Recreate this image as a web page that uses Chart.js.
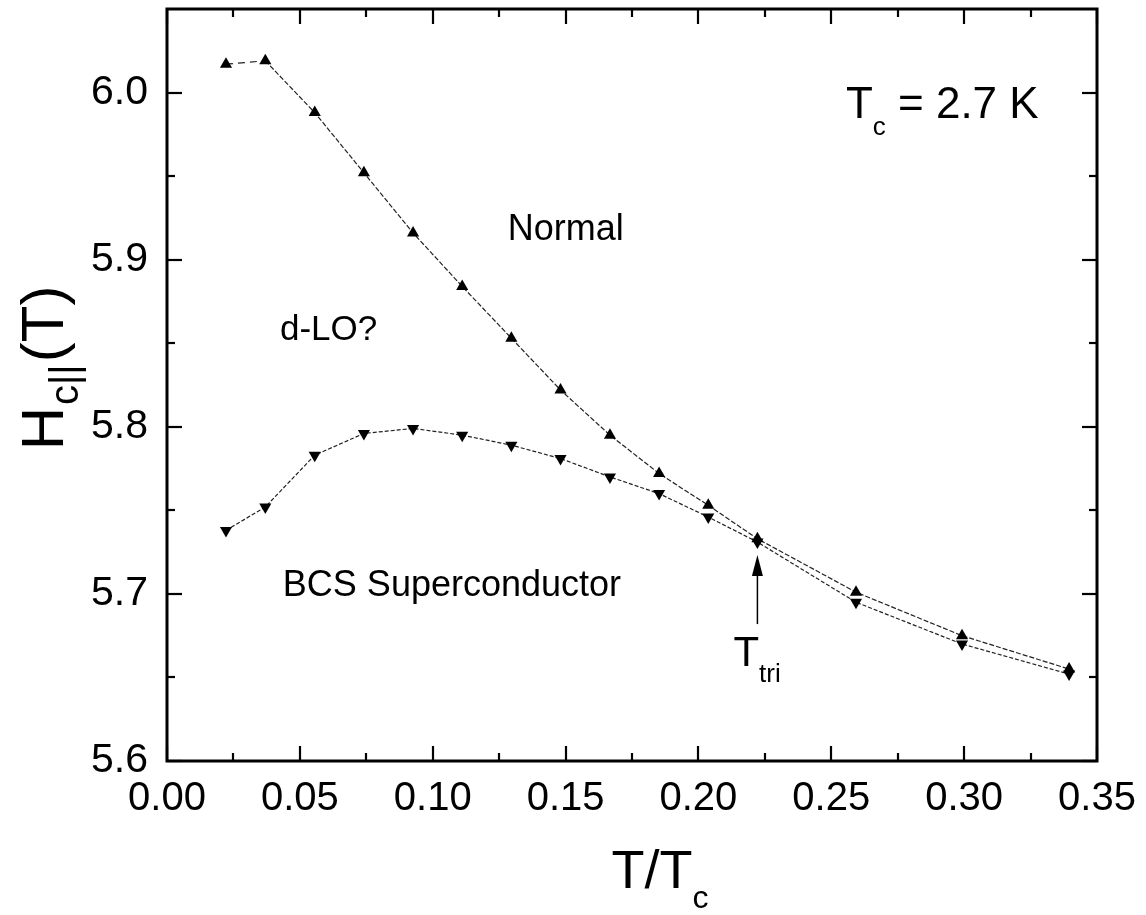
<!DOCTYPE html>
<html>
<head>
<meta charset="utf-8">
<title>Hc|| vs T/Tc</title>
<script src="https://cdn.jsdelivr.net/npm/chart.js@4.4.1/dist/chart.umd.min.js"></script>
<style>
  html, body { margin: 0; padding: 0; background: #fff; }
  canvas { display: block; }
</style>
</head>
<body>
<canvas id="phaseChart" width="1146" height="915"></canvas>
<script>
// T/Tc for each field sweep (Tc = 2.7 K)
const tOverTc = [0.0222, 0.0370, 0.0556, 0.0741, 0.0926, 0.1111, 0.1296, 0.1481, 0.1667, 0.1852, 0.2037, 0.2222, 0.2593, 0.2992, 0.3395];
// upper critical field, normal boundary (up triangles)
const hNormal = [6.017, 6.019, 5.988, 5.952, 5.916, 5.884, 5.853, 5.822, 5.795, 5.772, 5.753, 5.733, 5.701, 5.675, 5.655];
// lower transition, BCS boundary (down triangles)
const hBcs = [5.738, 5.752, 5.783, 5.796, 5.799, 5.795, 5.789, 5.781, 5.770, 5.760, 5.746, 5.731, 5.695, 5.670, 5.652];

const xTicks = [0, 0.05, 0.10, 0.15, 0.20, 0.25, 0.30, 0.35];
const xMinor = [0.025, 0.075, 0.125, 0.175, 0.225, 0.275, 0.325];
const yTicks = [5.6, 5.7, 5.8, 5.9, 6.0];
const yMinor = [5.65, 5.75, 5.85, 5.95];

const FONT = '"Liberation Sans", Arial, Helvetica, sans-serif';

function pts(xs, ys) {
    return xs.map((x, i) => ({ x: x, y: ys[i] }));
}

// writes a run of text pieces; each piece can be smaller and shifted down (subscripts)
function textRun(ctx, parts, x, y) {
    let cx = x;
    parts.forEach(p => {
        ctx.font = p.size + 'px ' + FONT;
        ctx.fillText(p.text, cx, y + (p.dy || 0));
        cx += ctx.measureText(p.text).width + (p.gap || 0);
    });
}

function runWidth(ctx, parts) {
    let w = 0;
    parts.forEach(p => {
        ctx.font = p.size + 'px ' + FONT;
        w += ctx.measureText(p.text).width + (p.gap || 0);
    });
    return w;
}

// frame and inward tick marks on all four sides
const frameTicks = {
    id: 'frameTicks',
    afterDraw(chart) {
        const { ctx, chartArea: a, scales: { x, y } } = chart;
        ctx.save();
        ctx.strokeStyle = '#000';
        ctx.lineCap = 'butt';
        const line = (x1, y1, x2, y2) => {
            ctx.beginPath(); ctx.moveTo(x1, y1); ctx.lineTo(x2, y2); ctx.stroke();
        };
        ctx.lineWidth = 2.2;
        xTicks.forEach(v => {
            const px = Math.round(x.getPixelForValue(v));
            line(px, a.bottom, px, a.bottom - 15);
            line(px, a.top, px, a.top + 15);
        });
        xMinor.forEach(v => {
            const px = Math.round(x.getPixelForValue(v));
            line(px, a.bottom, px, a.bottom - 8);
            line(px, a.top, px, a.top + 8);
        });
        yTicks.forEach(v => {
            const py = Math.round(y.getPixelForValue(v));
            line(a.left, py, a.left + 15, py);
            line(a.right, py, a.right - 15, py);
        });
        yMinor.forEach(v => {
            const py = Math.round(y.getPixelForValue(v));
            line(a.left, py, a.left + 8, py);
            line(a.right, py, a.right - 8, py);
        });
        ctx.lineWidth = 3;
        ctx.strokeRect(a.left, a.top, a.right - a.left, a.bottom - a.top);
        ctx.restore();
    }
};

// region names, Tc note, T_tri arrow and axis titles
const labels = {
    id: 'labels',
    afterDraw(chart) {
        const { ctx, scales: { x, y } } = chart;
        ctx.save();
        ctx.fillStyle = '#000';
        ctx.strokeStyle = '#000';
        ctx.textBaseline = 'alphabetic';
        ctx.textAlign = 'left';

        textRun(ctx, [{ text: 'Normal', size: 36 }], x.getPixelForValue(0.1282), y.getPixelForValue(5.912));
        textRun(ctx, [{ text: 'd-LO?', size: 35 }], x.getPixelForValue(0.0425), y.getPixelForValue(5.852));
        textRun(ctx, [{ text: 'BCS Superconductor', size: 36 }], x.getPixelForValue(0.0436), y.getPixelForValue(5.699));

        textRun(ctx, [
            { text: 'T', size: 44 },
            { text: 'c', size: 26, dy: 17 },
            { text: ' = 2.7 K', size: 44 }
        ], x.getPixelForValue(0.2555), y.getPixelForValue(5.985));

        // arrow pointing at the tricritical point
        const ax = x.getPixelForValue(tOverTc[11]);
        const tipY = y.getPixelForValue(hBcs[11]) + 13;
        ctx.lineWidth = 1.5;
        ctx.beginPath();
        ctx.moveTo(ax, tipY + 18);
        ctx.lineTo(ax, tipY + 69);
        ctx.stroke();
        ctx.beginPath();
        ctx.moveTo(ax, tipY);
        ctx.lineTo(ax - 5.5, tipY + 21);
        ctx.lineTo(ax + 5.5, tipY + 21);
        ctx.closePath();
        ctx.fill();
        textRun(ctx, [
            { text: 'T', size: 42 },
            { text: 'tri', size: 26, dy: 16 }
        ], ax - 24, tipY + 111);

        // x axis title
        const xt = [{ text: 'T/T', size: 54 }, { text: 'c', size: 32, dy: 20 }];
        textRun(ctx, xt, 660 - runWidth(ctx, xt) / 2, 888);

        // y axis title, rotated
        const yt = [
            { text: 'H', size: 60, gap: 2 },
            { text: 'c||', size: 40, dy: 15, gap: 2 },
            { text: '(T)', size: 60 }
        ];
        ctx.translate(63, 368);
        ctx.rotate(-Math.PI / 2);
        textRun(ctx, yt, -runWidth(ctx, yt) / 2, 0);
        ctx.restore();
    }
};

function initChart() {
    const ctx = document.getElementById('phaseChart').getContext('2d');
    const lineColor = '#222';
    new Chart(ctx, {
        type: 'scatter',
        data: {
            datasets: [
                {
                    label: 'Normal',
                    data: pts(tOverTc, hNormal),
                    showLine: true,
                    borderColor: lineColor,
                    borderWidth: 1.2,
                    borderDash: [5, 2],
                    segment: {
                        borderDash: c => c.p0DataIndex === 0 ? [7, 5] : [5, 2]
                    },
                    pointStyle: 'triangle',
                    pointRadius: 7,
                    pointBackgroundColor: '#000',
                    pointBorderColor: '#000',
                    pointBorderWidth: 0
                },
                {
                    label: 'BCS',
                    data: pts(tOverTc, hBcs),
                    showLine: true,
                    borderColor: lineColor,
                    borderWidth: 1.2,
                    borderDash: [4, 2],
                    pointStyle: 'triangle',
                    rotation: 180,
                    pointRadius: 7,
                    pointBackgroundColor: '#000',
                    pointBorderColor: '#000',
                    pointBorderWidth: 0
                }
            ]
        },
        options: {
            responsive: false,
            animation: false,
            layout: { padding: { top: 9, right: 49, left: 0, bottom: 0 } },
            plugins: {
                legend: { display: false },
                tooltip: { enabled: false }
            },
            scales: {
                x: {
                    type: 'linear',
                    min: 0,
                    max: 0.35,
                    afterBuildTicks: s => { s.ticks = xTicks.map(v => ({ value: v })); },
                    afterFit: s => {
                        s.height = 154;
                        s.paddingLeft = 0;
                        s.paddingRight = 0;
                    },
                    ticks: {
                        autoSkip: false,
                        maxRotation: 0,
                        color: '#000',
                        padding: 14,
                        font: { family: FONT, size: 40 },
                        callback: v => v.toFixed(2)
                    },
                    grid: { display: false, drawTicks: false },
                    border: { display: false }
                },
                y: {
                    type: 'linear',
                    min: 5.6,
                    max: 6.05,
                    afterBuildTicks: s => { s.ticks = yTicks.map(v => ({ value: v })); },
                    afterFit: s => {
                        s.width = 167;
                        s.paddingTop = 0;
                        s.paddingBottom = 0;
                    },
                    ticks: {
                        color: '#000',
                        padding: 19,
                        font: { family: FONT, size: 41 },
                        callback: v => v.toFixed(1)
                    },
                    grid: { display: false, drawTicks: false },
                    border: { display: false }
                }
            }
        },
        plugins: [frameTicks, labels]
    });
}

initChart();
</script>
</body>
</html>
